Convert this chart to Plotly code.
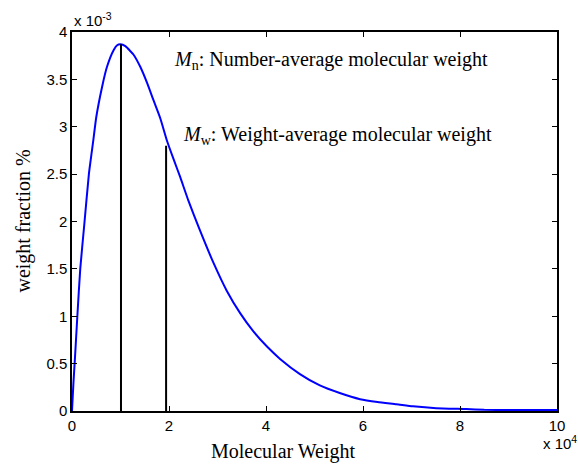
import plotly.graph_objects as go

# Molecular weight distribution (x in units of 1e4, weight fraction in units of 1e-3)
mw_1e4 = [0, 0.03, 0.06, 0.11, 0.17, 0.25, 0.35, 0.44, 0.50, 0.62, 0.72, 0.86, 0.93,
          1.00, 1.10, 1.20, 1.27, 1.41, 1.55, 1.68, 1.82, 1.96, 2.10, 2.23, 2.40,
          2.62, 2.92, 3.19, 3.47, 3.74, 4.02, 4.29, 4.70, 5.11, 5.52, 5.94, 6.30,
          6.69, 7.03, 7.51, 8.13, 8.50, 9.00, 10.0]
wf_1e3 = [0, 0.30, 0.55, 1.00, 1.50, 1.95, 2.51, 2.86, 3.10, 3.42, 3.63, 3.81, 3.86,
          3.87, 3.85, 3.80, 3.76, 3.63, 3.46, 3.28, 3.09, 2.85, 2.65, 2.47, 2.22,
          1.93, 1.56, 1.27, 1.03, 0.84, 0.68, 0.55, 0.39, 0.27, 0.19, 0.125, 0.095,
          0.072, 0.05, 0.03, 0.02, 0.012, 0.01, 0.01]

# Average molecular weights and the curve height at each
mn_1e4, mn_top = 1.01, 3.87
mw_avg_1e4, mw_top = 1.94, 2.80

x_ticks = [0, 2, 4, 6, 8, 10]
y_ticks = [0, 0.5, 1, 1.5, 2, 2.5, 3, 3.5, 4]
x_tick_text = ["0", "2", "4", "6", "8", "10"]
y_tick_text = ["0", "0.5", "1", "1.5", "2", "2.5", "3", "3.5", "4"]

x = [v * 1e4 for v in mw_1e4]
y = [v * 1e-3 for v in wf_1e3]

serif = "Times New Roman, Liberation Serif, serif"
sans = "Arial, Liberation Sans, sans-serif"

fig = go.Figure()
fig.add_trace(go.Scatter(x=x, y=y, mode="lines", line=dict(color="#0000ff", width=2),
                         line_shape="spline", line_smoothing=0.5,
                         showlegend=False, hoverinfo="skip"))
for xv, top in [(mn_1e4, mn_top), (mw_avg_1e4, mw_top)]:
    fig.add_trace(go.Scatter(x=[xv * 1e4, xv * 1e4], y=[0, top * 1e-3], mode="lines",
                             line=dict(color="black", width=2), showlegend=False,
                             hoverinfo="skip"))

axis_common = dict(showline=True, linecolor="black", linewidth=1.5, mirror="ticks",
                   ticks="inside", ticklen=5, tickwidth=1, tickcolor="black",
                   showgrid=False, zeroline=False,
                   tickfont=dict(family=sans, size=15, color="black"))

fig.update_layout(
    width=578, height=465,
    margin=dict(l=72, r=21, t=32, b=54),
    paper_bgcolor="white", plot_bgcolor="white",
    xaxis=dict(range=[0, 1e5], tickvals=[v * 1e4 for v in x_ticks],
               ticktext=x_tick_text, **axis_common),
    yaxis=dict(range=[0, 4e-3], tickvals=[v * 1e-3 for v in y_ticks],
               ticktext=y_tick_text, **axis_common),
    annotations=[
        dict(x=2.07e4, y=3.70e-3, xref="x", yref="y", xanchor="left", yanchor="middle",
             text="<i>M</i><sub>n</sub>: Number-average molecular weight",
             showarrow=False, font=dict(family=serif, size=20, color="black")),
        dict(x=2.25e4, y=2.91e-3, xref="x", yref="y", xanchor="left", yanchor="middle",
             text="<i>M</i><sub>w</sub>: Weight-average molecular weight",
             showarrow=False, font=dict(family=serif, size=20, color="black")),
        dict(x=0.437, y=-0.108, xref="paper", yref="paper", xanchor="center",
             yanchor="middle", text="Molecular Weight", showarrow=False,
             font=dict(family=serif, size=20, color="black")),
        dict(x=-0.101, y=0.5, xref="paper", yref="paper", xanchor="center",
             yanchor="middle", text="weight fraction %", textangle=-90, showarrow=False,
             font=dict(family=serif, size=20, color="black")),
        dict(x=0.0, y=1.034, xref="paper", yref="paper", xanchor="left",
             yanchor="middle", text="x 10<sup>-3</sup>", showarrow=False,
             font=dict(family=sans, size=15, color="black")),
        dict(x=0.968, y=-0.084, xref="paper", yref="paper", xanchor="left",
             yanchor="middle", text="x 10<sup>4</sup>", showarrow=False,
             font=dict(family=sans, size=15, color="black")),
    ],
)

fig.write_html("out.html")
